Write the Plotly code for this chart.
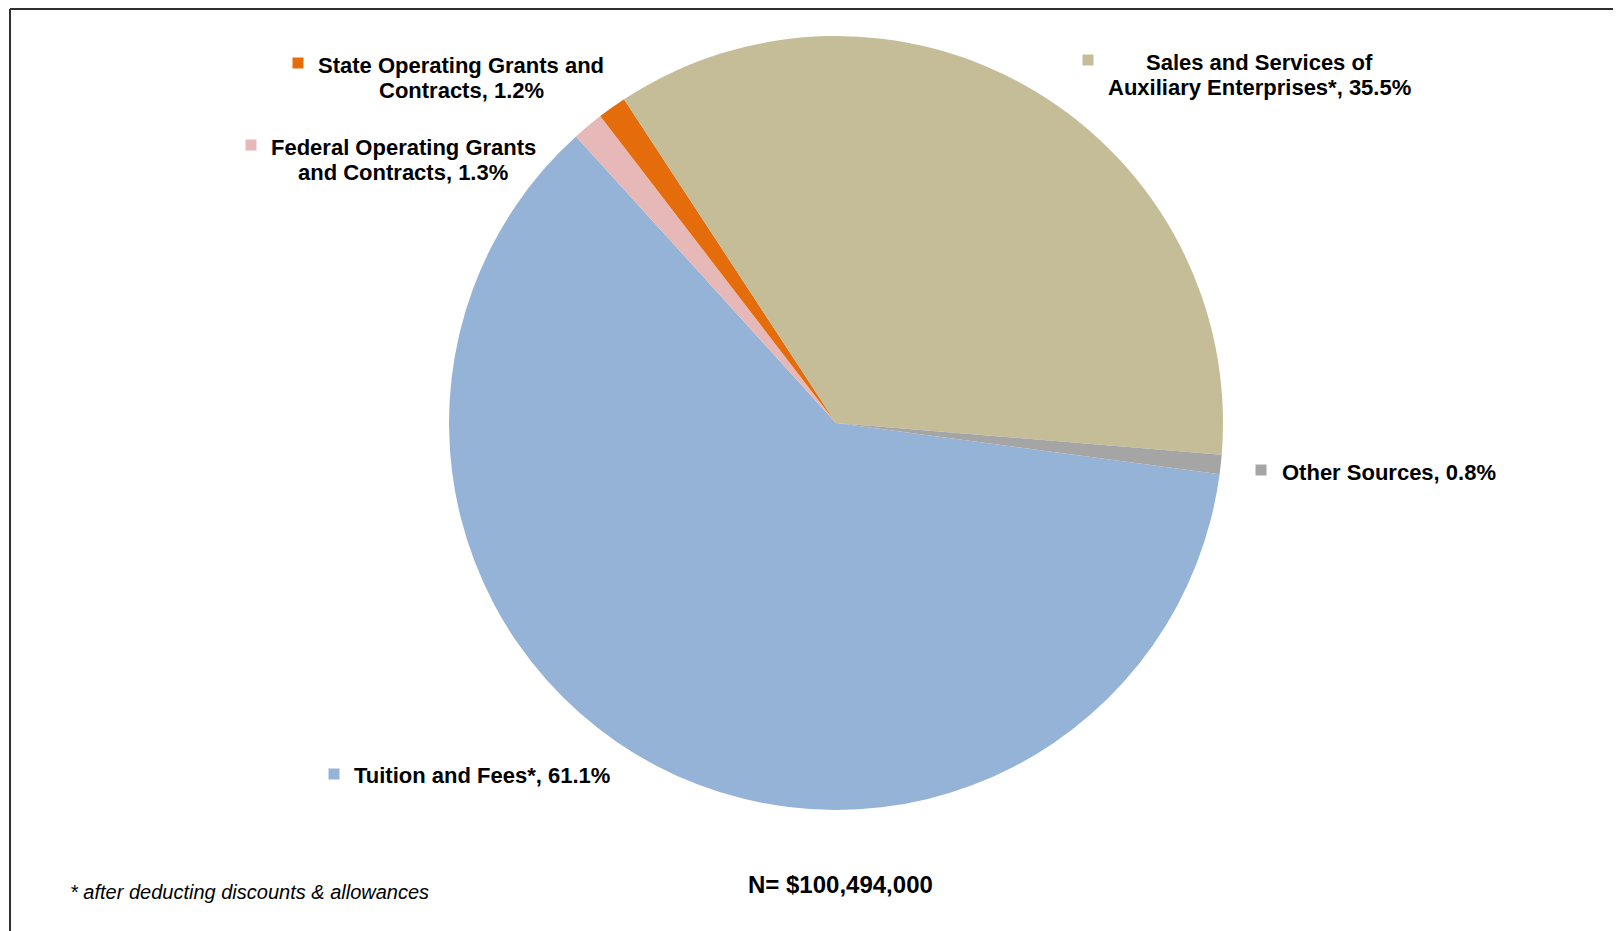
import plotly.graph_objects as go

W, H = 1621, 931
# the page body has an 8px margin, so the figure starts 8px in from the window corner
OFFSET = 8

# slices, in clockwise order starting from the Tuition slice
categories = [
    "Tuition and Fees*",
    "Federal Operating Grants and Contracts",
    "State Operating Grants and Contracts",
    "Sales and Services of Auxiliary Enterprises*",
    "Other Sources",
]
shares = [61.1, 1.3, 1.2, 35.5, 0.8]
colors = ["#95B3D7", "#E6B9B8", "#E46C0A", "#C4BD97", "#A5A5A5"]

# where the two-line labels are broken
line_breaks = {
    "Federal Operating Grants and Contracts": "Federal Operating Grants",
    "State Operating Grants and Contracts": "State Operating Grants and",
    "Sales and Services of Auxiliary Enterprises*": "Sales and Services of",
}

total_text = "N= $100,494,000"
footnote = "* after deducting discounts & allowances"

# label placement in window pixels: (square x, square y, text x, text y, text anchor)
label_pos = [
    (334, 774, 352, 775, "left"),
    (251, 145, 403, 160, "center"),
    (298, 63, 461, 78, "center"),
    (1088, 60, 1259, 75, "center"),
    (1261, 470, 1280, 472, "left"),
]
LINE_GAP = 25.5

FONT = "Liberation Sans, Arial, sans-serif"


def px(x):
    return (x - OFFSET) / W


def py(y):
    return 1 - (y - OFFSET) / H


def label_lines(cat, val):
    txt = f"{cat}, {val}%"
    head = line_breaks.get(cat)
    if head:
        return [head, txt[len(head):].lstrip()]
    return [txt]


fig = go.Figure(go.Pie(
    labels=categories,
    values=shares,
    sort=False,
    direction="clockwise",
    rotation=97.6,
    marker=dict(colors=colors, line=dict(width=0)),
    textinfo="none",
    hoverinfo="label+percent",
    domain=dict(x=[px(449), px(1223)], y=[py(810), py(36)]),
    showlegend=False,
))

annotations = []
shapes = []
for cat, val, col, (sx, sy, tx, ty, anchor) in zip(categories, shares, colors, label_pos):
    shapes.append(dict(
        type="rect", xref="paper", yref="paper",
        x0=px(sx - 5.5), x1=px(sx + 5.5), y0=py(sy + 5.5), y1=py(sy - 5.5),
        fillcolor=col, line=dict(width=0),
    ))
    lines = label_lines(cat, val)
    first = ty - LINE_GAP * (len(lines) - 1) / 2
    for i, line in enumerate(lines):
        annotations.append(dict(
            text=line, x=px(tx), y=py(first + i * LINE_GAP),
            xref="paper", yref="paper", xanchor=anchor, yanchor="middle",
            showarrow=False,
            font=dict(family=FONT, size=22, color="#000000", weight="bold"),
        ))

annotations.append(dict(
    text=total_text, x=px(840), y=py(884), xref="paper", yref="paper",
    xanchor="center", yanchor="middle", showarrow=False,
    font=dict(family=FONT, size=24, color="#000000", weight="bold"),
))
annotations.append(dict(
    text=footnote, x=px(68), y=py(892), xref="paper", yref="paper",
    xanchor="left", yanchor="middle", showarrow=False,
    font=dict(family=FONT, size=20, color="#000000", style="italic"),
))

# frame: top and left edges (top edge sits at the very top of the figure)
shapes.append(dict(type="line", xref="paper", yref="paper",
                   x0=px(10), x1=1, y0=py(9), y1=py(9),
                   line=dict(color="#303030", width=2)))
shapes.append(dict(type="line", xref="paper", yref="paper",
                   x0=px(10), x1=px(10), y0=py(9), y1=0,
                   line=dict(color="#303030", width=2)))

fig.update_layout(
    width=W, height=H,
    margin=dict(l=0, r=0, t=0, b=0),
    paper_bgcolor="#FFFFFF",
    plot_bgcolor="#FFFFFF",
    annotations=annotations,
    shapes=shapes,
)

fig.write_html("out.html")
